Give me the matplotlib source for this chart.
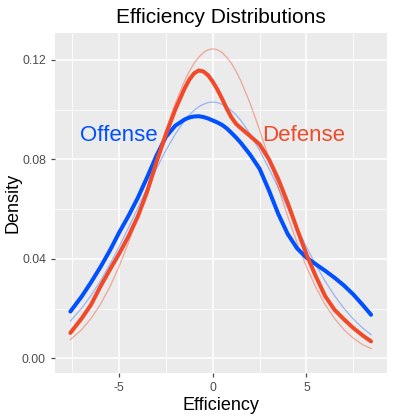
import matplotlib
matplotlib.use("Agg")
import matplotlib.pyplot as plt

# values
efficiency = [-7.6, -7.0, -6.5, -6.0, -5.5, -5.0, -4.5, -4.0, -3.5, -3.0, -2.5, -2.0,
              -1.5, -1.25, -1.0, -0.75, -0.5, -0.25, 0.0, 0.25, 0.5, 0.75, 1.0, 1.25,
              1.5, 2.0, 2.5, 3.0, 3.5, 4.0, 4.5, 5.0, 5.5, 6.0, 6.5, 7.0, 7.5, 8.0, 8.45]

offense_density = [0.0188, 0.0248, 0.0305, 0.0366, 0.0432, 0.0505, 0.0572, 0.0645,
                   0.0728, 0.0815, 0.0890, 0.0935, 0.0960, 0.0968, 0.0972, 0.0973,
                   0.0970, 0.0964, 0.0956, 0.0948, 0.0938, 0.0924, 0.0906, 0.0887,
                   0.0866, 0.0818, 0.0762, 0.0675, 0.0580, 0.0500, 0.0442, 0.0405,
                   0.0378, 0.0352, 0.0324, 0.0293, 0.0257, 0.0215, 0.0175]

defense_density = [0.0102, 0.0160, 0.0215, 0.0288, 0.0355, 0.0420, 0.0490, 0.0570,
                   0.0670, 0.0790, 0.0900, 0.1000, 0.1085, 0.1120, 0.1145, 0.1157,
                   0.1153, 0.1138, 0.1112, 0.1080, 0.1043, 0.1003, 0.0968, 0.0942,
                   0.0925, 0.0893, 0.0860, 0.0800, 0.0720, 0.0625, 0.0520, 0.0418,
                   0.0330, 0.0250, 0.0195, 0.0157, 0.0122, 0.0092, 0.0068]

offense_normal = [0.0150, 0.0201, 0.0252, 0.0310, 0.0376, 0.0448, 0.0524, 0.0604,
                  0.0685, 0.0763, 0.0836, 0.0901, 0.0956, 0.0978, 0.0996, 0.1011,
                  0.1021, 0.1028, 0.1030, 0.1028, 0.1021, 0.1011, 0.0996, 0.0978,
                  0.0956, 0.0901, 0.0836, 0.0763, 0.0685, 0.0604, 0.0524, 0.0448,
                  0.0376, 0.0310, 0.0252, 0.0201, 0.0158, 0.0122, 0.0095]

defense_normal = [0.0075, 0.0115, 0.0160, 0.0216, 0.0286, 0.0369, 0.0465, 0.0571,
                  0.0686, 0.0803, 0.0918, 0.1024, 0.1115, 0.1153, 0.1185, 0.1210,
                  0.1229, 0.1240, 0.1244, 0.1240, 0.1229, 0.1210, 0.1185, 0.1153,
                  0.1115, 0.1024, 0.0918, 0.0803, 0.0686, 0.0571, 0.0465, 0.0369,
                  0.0286, 0.0216, 0.0160, 0.0115, 0.0081, 0.0055, 0.0039]

blue = "#0050FF"
red = "#F04A2A"

fig = plt.figure(figsize=(3.94, 4.18), dpi=100)
ax = fig.add_axes([0.1396, 0.1077, 0.8416, 0.8136])
ax.set_facecolor("#EBEBEB")
for s in ax.spines.values():
    s.set_visible(False)

# ggplot like grid
for v in [-7.5, -2.5, 2.5, 7.5]:
    ax.axvline(v, color="white", lw=0.55, zorder=0)
for v in [-5, 0, 5]:
    ax.axvline(v, color="white", lw=1.1, zorder=0)
for v in [0.02, 0.06, 0.10]:
    ax.axhline(v, color="white", lw=0.55, zorder=0)
for v in [0.0, 0.04, 0.08, 0.12]:
    ax.axhline(v, color="white", lw=1.1, zorder=0)

ax.plot(efficiency, offense_normal, color=blue, alpha=0.32, lw=1.0, zorder=2)
ax.plot(efficiency, defense_normal, color=red, alpha=0.4, lw=1.0, zorder=2)
ax.plot(efficiency, offense_density, color=blue, lw=2.9, solid_capstyle="round",
        solid_joinstyle="round", zorder=3)
ax.plot(efficiency, defense_density, color=red, lw=2.9, solid_capstyle="round",
        solid_joinstyle="round", zorder=3)

ax.text(-5.0, 0.0897, "Offense", color=blue, fontsize=16, family="Liberation Sans",
        ha="center", va="center", zorder=4)
ax.text(4.87, 0.0897, "Defense", color=red, fontsize=16, family="Liberation Sans",
        ha="center", va="center", zorder=4)

ax.set_xlim(-8.42, 9.28)
ax.set_ylim(-0.0059, 0.1308)
ax.set_xticks([-5, 0, 5])
ax.set_xticklabels(["-5", "0", "5"])
ax.set_yticks([0.0, 0.04, 0.08, 0.12])
ax.set_yticklabels(["0.00", "0.04", "0.08", "0.12"])
ax.tick_params(colors="#4D4D4D", labelcolor="#4D4D4D", labelsize=8.8, length=3, width=0.9)
for lab in ax.get_xticklabels() + ax.get_yticklabels():
    lab.set_family("Liberation Sans")

ax.set_xlabel("Efficiency", fontsize=13, family="Liberation Sans", labelpad=2)
ax.set_ylabel("Density", fontsize=13, family="Liberation Sans", labelpad=0)
ax.set_title("Efficiency Distributions", fontsize=15, family="Liberation Sans", pad=7)

fig.savefig("out.png", dpi=100)
